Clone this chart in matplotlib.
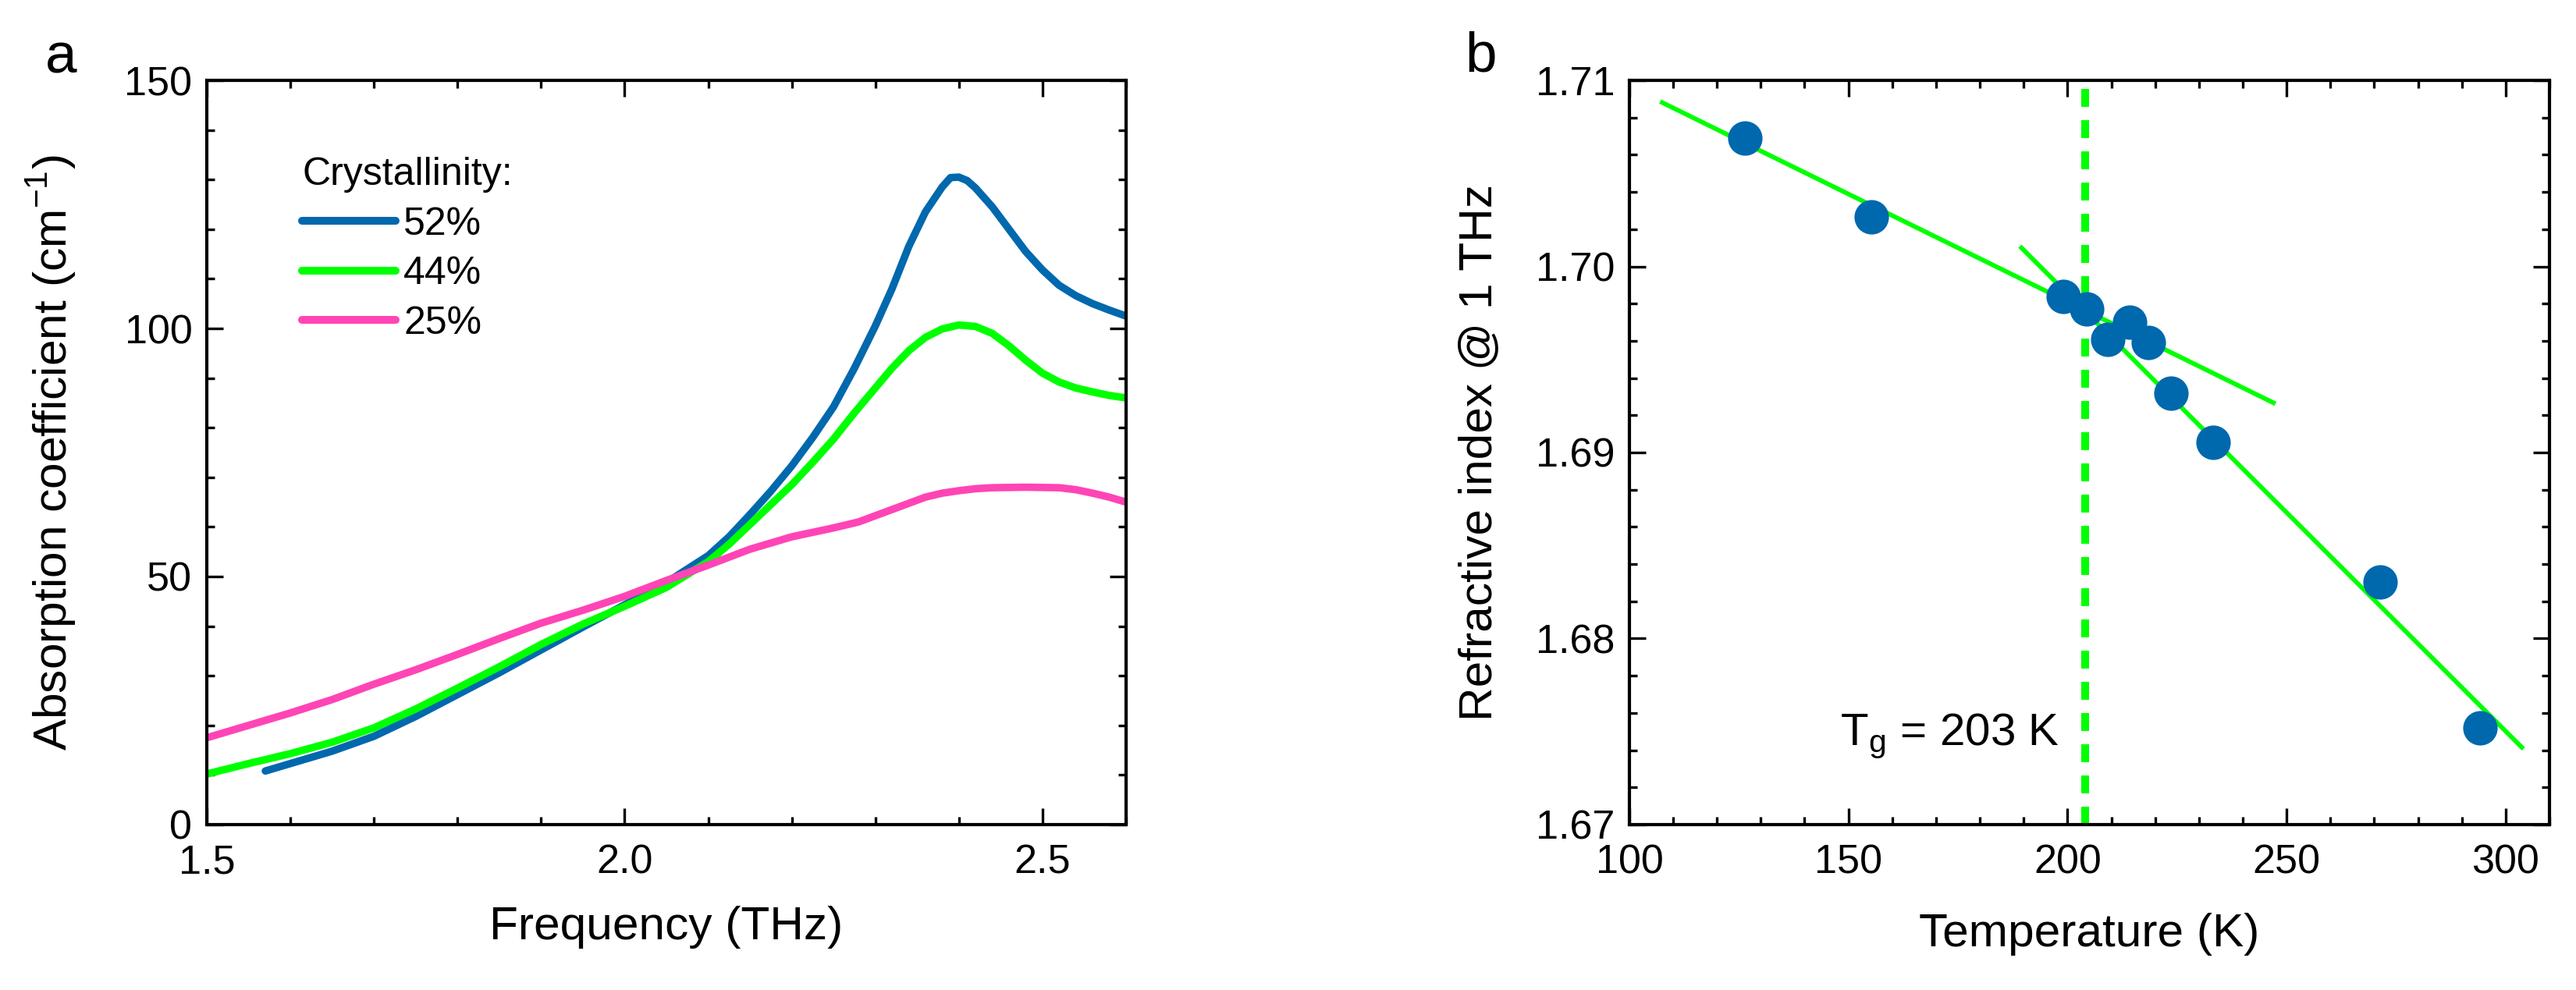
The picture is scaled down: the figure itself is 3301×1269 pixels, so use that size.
import matplotlib
matplotlib.use("Agg")
import matplotlib.pyplot as plt
from matplotlib.ticker import MultipleLocator, FormatStrFormatter

plt.rcParams['font.family'] = ['Liberation Sans', 'DejaVu Sans']
plt.rcParams['mathtext.fontset'] = 'custom'
plt.rcParams['mathtext.rm'] = 'Liberation Sans'
plt.rcParams['axes.linewidth'] = 1.0

# panel a: absorption spectra
freq_52 = [1.57, 1.60, 1.65, 1.70, 1.75, 1.80, 1.85, 1.90, 1.95, 2.00, 2.05, 2.10,
           2.125, 2.15, 2.175, 2.20, 2.225, 2.25, 2.275, 2.30, 2.32, 2.34, 2.36,
           2.38, 2.39, 2.40, 2.41, 2.42, 2.44, 2.46, 2.48, 2.50, 2.52, 2.54, 2.56,
           2.58, 2.60]
alpha_52 = [10.8, 12.3, 14.8, 17.8, 21.8, 26.2, 30.6, 35.2, 39.8, 44.3, 48.8, 54.2,
            58.0, 62.5, 67.2, 72.3, 78.0, 84.2, 92.0, 100.5, 108.0, 116.5, 123.5,
            128.5, 130.4, 130.5, 129.8, 128.3, 124.5, 120.0, 115.5, 111.8, 108.7,
            106.6, 105.0, 103.7, 102.5]

freq_44 = [1.50, 1.55, 1.60, 1.65, 1.70, 1.75, 1.80, 1.85, 1.90, 1.95, 2.00, 2.05,
           2.10, 2.125, 2.15, 2.175, 2.20, 2.225, 2.25, 2.275, 2.30, 2.32, 2.34,
           2.36, 2.38, 2.40, 2.42, 2.44, 2.46, 2.48, 2.50, 2.52, 2.54, 2.56, 2.58,
           2.60]
alpha_44 = [10.2, 12.3, 14.3, 16.6, 19.5, 23.3, 27.5, 31.8, 36.3, 40.4, 44.0, 47.8,
            53.0, 56.5, 60.5, 64.5, 68.5, 73.0, 77.7, 83.0, 88.0, 92.0, 95.5, 98.2,
            99.9, 100.7, 100.4, 99.0, 96.5, 93.6, 91.0, 89.2, 88.0, 87.2, 86.5, 86.0]

freq_25 = [1.50, 1.55, 1.60, 1.65, 1.70, 1.75, 1.80, 1.85, 1.90, 1.95, 2.00, 2.05,
           2.10, 2.15, 2.20, 2.25, 2.28, 2.32, 2.36, 2.38, 2.40, 2.42, 2.44, 2.48,
           2.52, 2.54, 2.56, 2.58, 2.60]
alpha_25 = [17.5, 20.0, 22.5, 25.2, 28.3, 31.2, 34.3, 37.5, 40.6, 43.2, 46.0, 49.2,
            52.3, 55.5, 58.0, 59.8, 61.0, 63.5, 66.0, 66.8, 67.3, 67.7, 67.9, 68.0,
            67.9, 67.5, 66.8, 66.0, 65.0]

# panel b: refractive index vs temperature
temp_K = [126.4, 155.2, 199.1, 204.3, 209.2, 214.2, 218.5, 223.6, 233.3, 271.3, 294.2]
n_1THz = [1.7069, 1.70267, 1.69838, 1.6977, 1.6961, 1.69702, 1.69593, 1.69318,
          1.69056, 1.68302, 1.6752]

fit_low_T = [107.5, 247.0]
fit_low_n = [1.70881, 1.69267]
fit_high_T = [189.5, 303.7]
fit_high_n = [1.70100, 1.67415]
Tg = 204.0

blue = '#0068AD'
green = '#00FF00'
pink = '#FF45B5'

fig = plt.figure(figsize=(3301 / 300, 1269 / 300), dpi=300)
ax1 = fig.add_axes([0.0803, 0.1671, 0.3568, 0.7517])
ax2 = fig.add_axes([0.6325, 0.1671, 0.3572, 0.7517])

for ax in (ax1, ax2):
    ax.tick_params(which='both', direction='in', top=True, right=True,
                   width=0.8, labelsize=12.5)
    ax.tick_params(axis='x', pad=6)
    ax.tick_params(axis='y', pad=4.5)
    ax.tick_params(which='major', length=5)
    ax.tick_params(which='minor', length=2.5)

# ---- a ----
ax1.plot(freq_52, alpha_52, color=blue, lw=2.3, label='52%', solid_capstyle='round')
ax1.plot(freq_44, alpha_44, color=green, lw=2.3, label='44%', solid_capstyle='round')
ax1.plot(freq_25, alpha_25, color=pink, lw=2.3, label='25%', solid_capstyle='round')
ax1.set_xlim(1.5, 2.6)
ax1.set_ylim(0, 150)
ax1.xaxis.set_major_locator(MultipleLocator(0.5))
ax1.xaxis.set_minor_locator(MultipleLocator(0.1))
ax1.yaxis.set_major_locator(MultipleLocator(50))
ax1.yaxis.set_minor_locator(MultipleLocator(10))
ax1.set_xlabel('Frequency (THz)', fontsize=14.5)
ax1.set_ylabel(r'Absorption coefficient (cm$^{-1}$)', fontsize=14.5)
ax1.xaxis.set_label_coords(0.5, -0.109)
ax1.yaxis.set_label_coords(-0.140, 0.5)
leg = ax1.legend(loc='upper left', bbox_to_anchor=(0.1036, 0.897), frameon=False,
                 title='Crystallinity:', fontsize=12, title_fontsize=12,
                 handlelength=2.4, handletextpad=0.2, labelspacing=0.35,
                 borderpad=0, borderaxespad=0, alignment='left')
for h in leg.get_lines():
    h.set_linewidth(2.4)
    h.set_solid_capstyle('round')
fig.text(58 / 3301, 1 - 93 / 1269, 'a', fontsize=17.5, ha='left', va='baseline')

# ---- b ----
ax2.plot(fit_low_T, fit_low_n, color=green, lw=1.4)
ax2.plot(fit_high_T, fit_high_n, color=green, lw=1.4)
ax2.axvline(Tg, color=green, lw=2.4, dashes=(2.3, 1.7))
ax2.plot(temp_K, n_1THz, 'o', color=blue, ms=9.6, mec=blue, zorder=3)
ax2.set_xlim(100, 310)
ax2.set_ylim(1.67, 1.71)
ax2.xaxis.set_major_locator(MultipleLocator(50))
ax2.xaxis.set_minor_locator(MultipleLocator(10))
ax2.yaxis.set_major_locator(MultipleLocator(0.01))
ax2.yaxis.set_minor_locator(MultipleLocator(0.002))
ax2.yaxis.set_major_formatter(FormatStrFormatter('%.2f'))
ax2.set_xlabel('Temperature (K)', fontsize=14.5)
ax2.set_ylabel('Refractive index @ 1 THz', fontsize=14.5)
ax2.xaxis.set_label_coords(0.5, -0.119)
ax2.yaxis.set_label_coords(-0.140, 0.5)
ax2.text(2358 / 3301, 1 - 955 / 1269, r'T$_\mathregular{g}$ = 203 K', fontsize=14,
         transform=fig.transFigure, ha='left', va='baseline')
fig.text(1877 / 3301, 1 - 92 / 1269, 'b', fontsize=17.5, ha='left', va='baseline')

fig.savefig('out.png', dpi=300)
